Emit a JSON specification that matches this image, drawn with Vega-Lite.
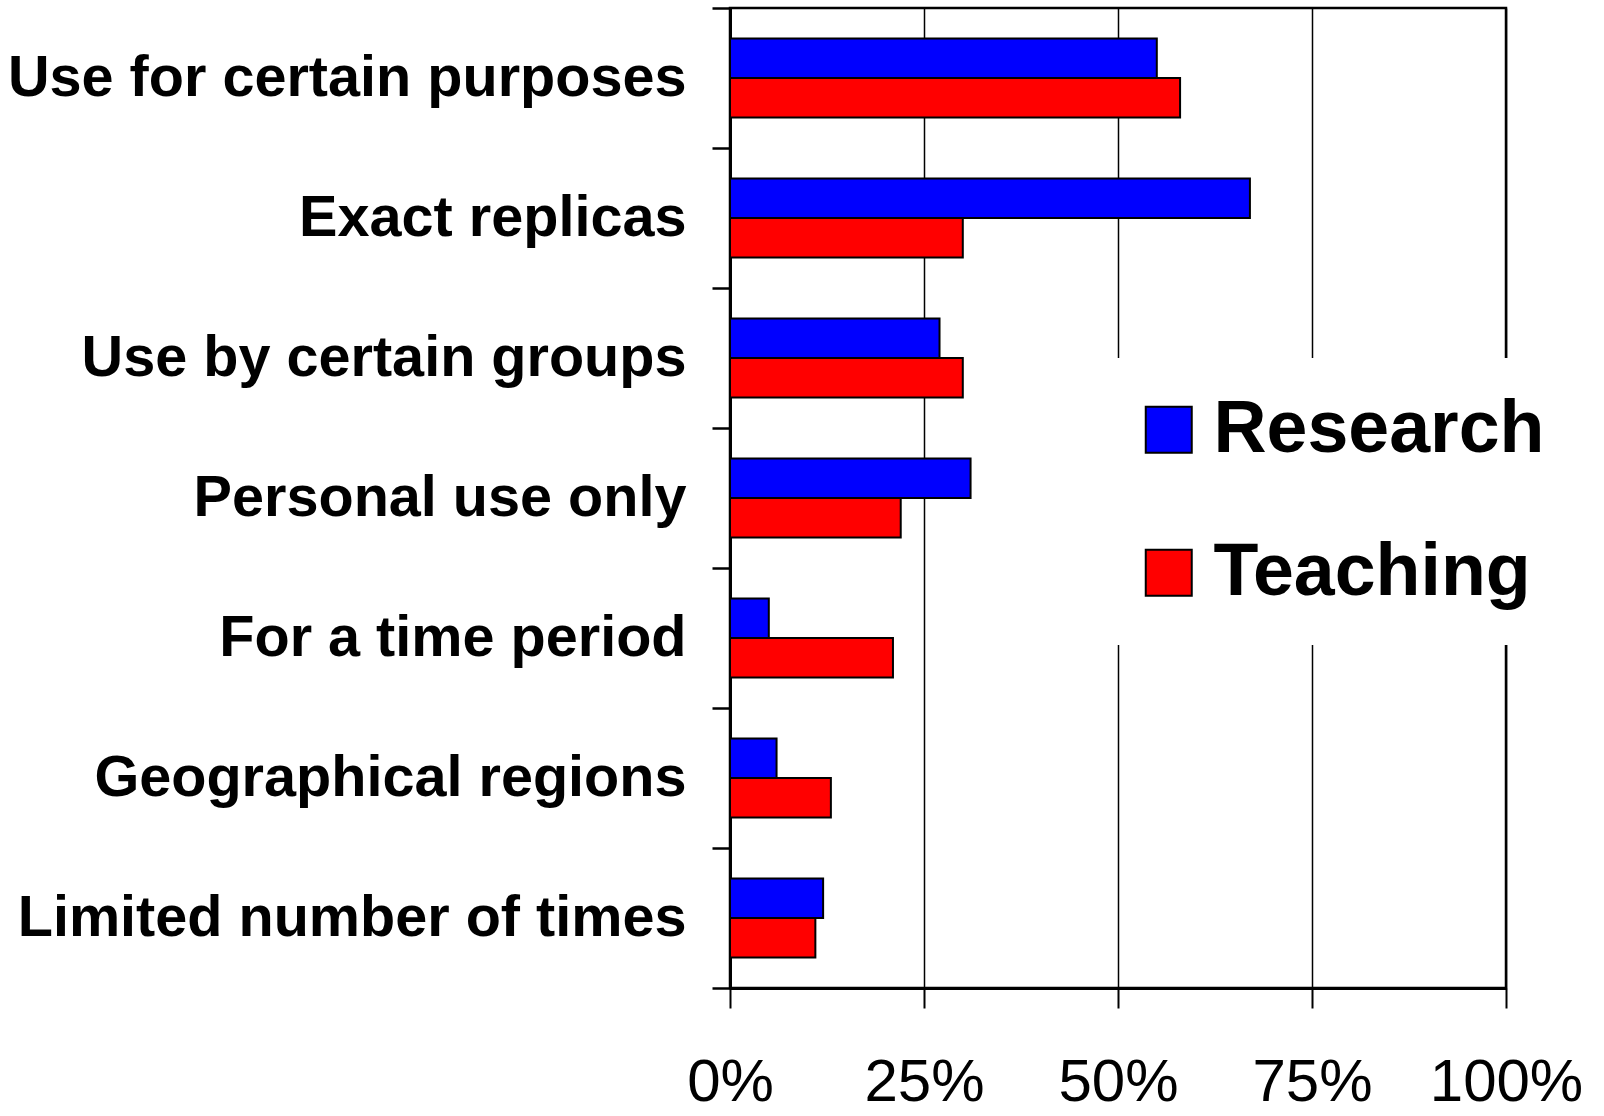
{
  "$schema": "https://vega.github.io/schema/vega-lite/v6.json",
  "autosize": {"type": "none"},
  "padding": {"left": 730, "top": 8, "right": 98, "bottom": 128},
  "width": 776,
  "height": 980,
  "background": "white",
  "view": {"stroke": "black", "strokeWidth": 2.5, "fill": "white"},
  "config": {
    "font": "Liberation Sans"
  },
  "data": {
    "values": [
      {"restriction": "Use for certain purposes", "series": "Research", "pct": 55},
      {"restriction": "Use for certain purposes", "series": "Teaching", "pct": 58},
      {"restriction": "Exact replicas", "series": "Research", "pct": 67},
      {"restriction": "Exact replicas", "series": "Teaching", "pct": 30},
      {"restriction": "Use by certain groups", "series": "Research", "pct": 27},
      {"restriction": "Use by certain groups", "series": "Teaching", "pct": 30},
      {"restriction": "Personal use only", "series": "Research", "pct": 31},
      {"restriction": "Personal use only", "series": "Teaching", "pct": 22},
      {"restriction": "For a time period", "series": "Research", "pct": 5},
      {"restriction": "For a time period", "series": "Teaching", "pct": 21},
      {"restriction": "Geographical regions", "series": "Research", "pct": 6},
      {"restriction": "Geographical regions", "series": "Teaching", "pct": 13},
      {"restriction": "Limited number of times", "series": "Research", "pct": 12},
      {"restriction": "Limited number of times", "series": "Teaching", "pct": 11}
    ]
  },
  "mark": {"type": "bar", "stroke": "black", "strokeWidth": 2, "opacity": 1},
  "encoding": {
    "y": {
      "field": "restriction",
      "type": "nominal",
      "sort": null,
      "scale": {"paddingInner": 0, "paddingOuter": 0},
      "axis": {
        "title": null,
        "tickBand": "extent",
        "tickSize": 18,
        "tickWidth": 2.5,
        "tickColor": "black",
        "domainColor": "black",
        "domainWidth": 3,
        "labelFontSize": 57.6,
        "labelFontWeight": "bold",
        "labelColor": "black",
        "labelPadding": 26,
        "labelLimit": 0,
        "grid": false
      }
    },
    "yOffset": {
      "field": "series",
      "type": "nominal",
      "sort": ["Research", "Teaching"],
      "scale": {"paddingInner": 0, "paddingOuter": 0.772}
    },
    "x": {
      "field": "pct",
      "type": "quantitative",
      "scale": {"domain": [0, 100], "nice": false},
      "axis": {
        "title": null,
        "values": [0, 25, 50, 75, 100],
        "labelExpr": "datum.value + '%'",
        "labelFlush": false,
        "labelFontSize": 60,
        "labelColor": "black",
        "labelPadding": 45,
        "tickSize": 20,
        "tickWidth": 2,
        "tickColor": "black",
        "domainColor": "black",
        "domainWidth": 3,
        "grid": true,
        "gridColor": "black",
        "gridWidth": 1.5,
        "gridOpacity": 1
      }
    },
    "color": {
      "field": "series",
      "type": "nominal",
      "sort": ["Research", "Teaching"],
      "scale": {"domain": ["Research", "Teaching"], "range": ["#0000FF", "#FF0000"]},
      "legend": {
        "title": null,
        "orient": "none",
        "legendX": 367,
        "legendY": 350,
        "padding": 35,
        "fillColor": "white",
        "strokeColor": null,
        "symbolType": "square",
        "symbolSize": 2116,
        "symbolStrokeColor": "black",
        "symbolStrokeWidth": 2,
        "symbolOpacity": 1,
        "labelFontSize": 73.5,
        "labelFontWeight": "bold",
        "labelColor": "black",
        "labelOffset": 8,
        "labelLimit": 0,
        "rowPadding": 68
      }
    }
  }
}
